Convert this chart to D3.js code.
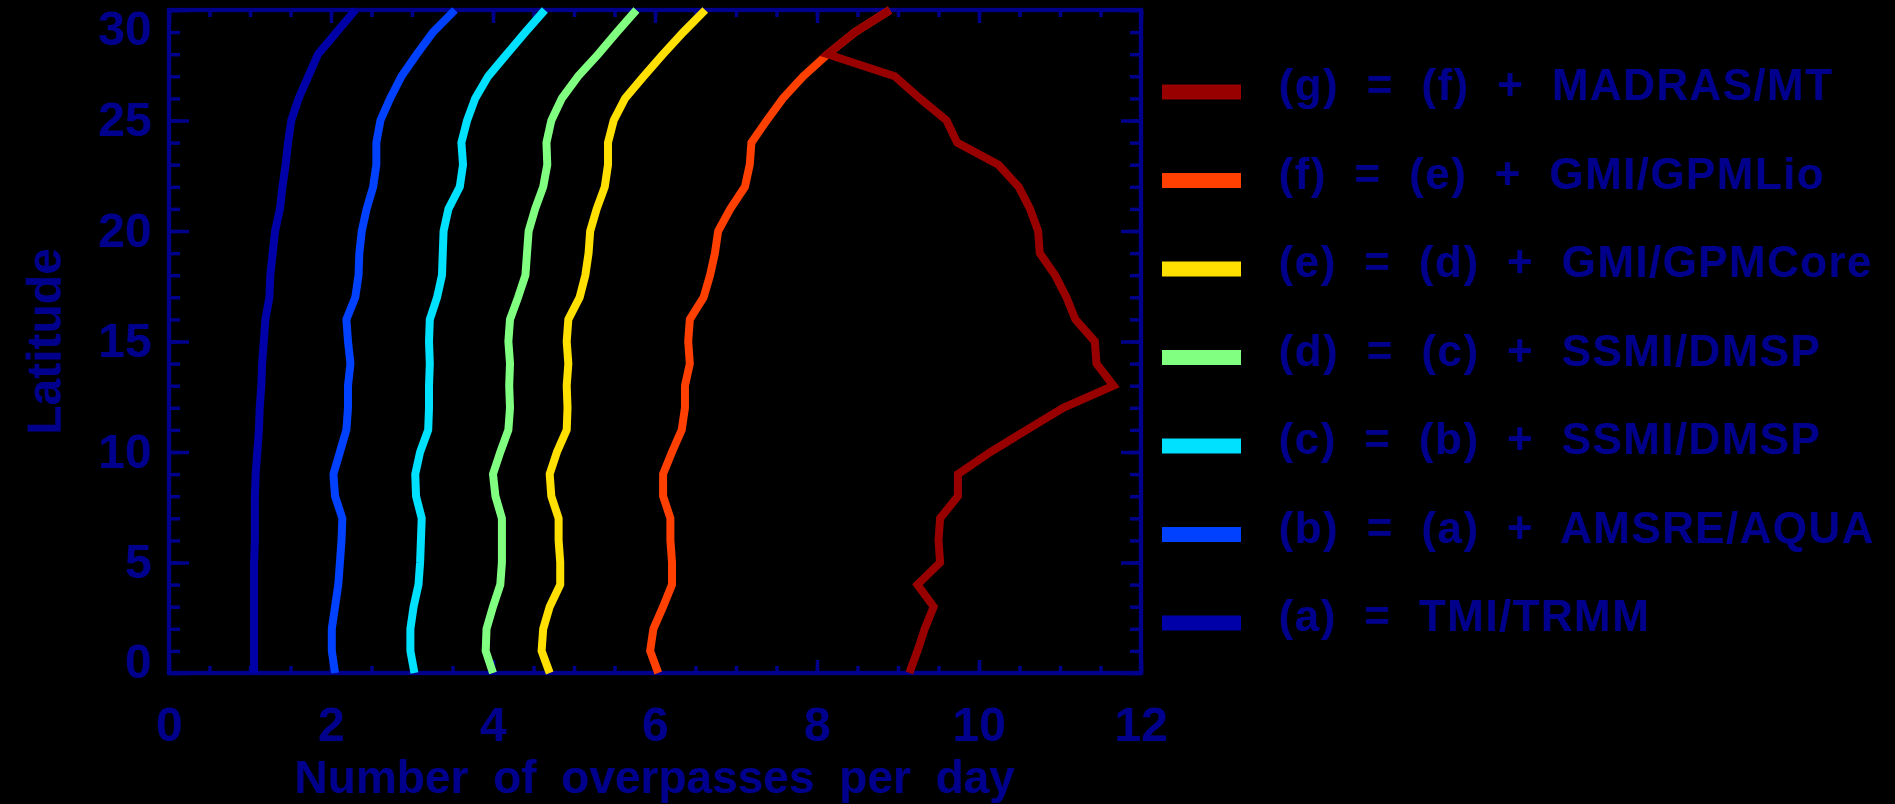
<!DOCTYPE html>
<html>
<head>
<meta charset="utf-8">
<script src="https://cdn.jsdelivr.net/npm/d3@7"></script>
<style>
  body { margin: 0; background: #000; }
  svg { display: block; }
  text { font-family: 'Liberation Sans', Arial, Helvetica, sans-serif; font-weight: bold; }
</style>
</head>
<body>
<div id="chart"></div>
<script>
// latitude of every point, 0..30 deg
const latitudes = d3.range(0, 31);

// overpasses per day, one value per latitude
const tmiTrmm   = [1.05,1.05,1.05,1.05,1.05,1.05,1.06,1.06,1.06,1.07,1.09,1.11,1.12,1.14,1.15,1.17,1.19,1.24,1.25,1.28,1.31,1.37,1.40,1.44,1.47,1.51,1.60,1.72,1.84,2.07,2.30];
const plusAmsre = [2.05,2.01,2.01,2.05,2.09,2.11,2.13,2.14,2.05,2.03,2.11,2.19,2.21,2.21,2.24,2.21,2.19,2.30,2.34,2.35,2.38,2.44,2.52,2.56,2.56,2.61,2.73,2.87,3.06,3.26,3.53];
const plusSsmi1 = [3.03,2.98,2.98,3.02,3.08,3.10,3.11,3.12,3.05,3.04,3.10,3.20,3.21,3.21,3.22,3.21,3.22,3.31,3.37,3.38,3.39,3.45,3.59,3.63,3.61,3.68,3.78,3.94,4.17,4.40,4.64];
const plusSsmi2 = [4.00,3.91,3.92,4.00,4.09,4.11,4.11,4.11,4.03,4.00,4.09,4.19,4.21,4.20,4.21,4.19,4.21,4.31,4.40,4.42,4.44,4.52,4.62,4.67,4.66,4.72,4.85,5.05,5.30,5.53,5.77];
const plusGpmCore = [4.70,4.60,4.62,4.70,4.83,4.83,4.81,4.81,4.72,4.70,4.79,4.91,4.92,4.91,4.93,4.91,4.93,5.07,5.14,5.18,5.20,5.28,5.38,5.42,5.42,5.49,5.63,5.86,6.10,6.35,6.62];
const plusGpmLio  = [6.04,5.94,5.98,6.10,6.21,6.21,6.19,6.19,6.10,6.10,6.21,6.33,6.37,6.37,6.43,6.41,6.43,6.60,6.68,6.74,6.78,6.93,7.11,7.17,7.19,7.38,7.58,7.83,8.13,8.47,8.90];
const plusMadras  = [9.14,9.24,9.33,9.44,9.24,9.52,9.50,9.52,9.74,9.74,10.14,10.59,11.04,11.66,11.45,11.43,11.19,11.08,10.94,10.75,10.73,10.63,10.49,10.24,9.73,9.60,9.27,8.96,8.13,8.47,8.90];

const seriesLabels = [
  "(a) = TMI/TRMM",
  "(b) = (a) + AMSRE/AQUA",
  "(c) = (b) + SSMI/DMSP",
  "(d) = (c) + SSMI/DMSP",
  "(e) = (d) + GMI/GPMCore",
  "(f) = (e) + GMI/GPMLio",
  "(g) = (f) + MADRAS/MT"
];
const seriesValues = [tmiTrmm, plusAmsre, plusSsmi1, plusSsmi2, plusGpmCore, plusGpmLio, plusMadras];
const seriesColors = ["#0000a8", "#0040ff", "#00e0ff", "#80ff80", "#ffe000", "#ff4000", "#980000"];

const xTicks = [0, 2, 4, 6, 8, 10, 12];
const yTicks = [0, 5, 10, 15, 20, 25, 30];

const width = 1895;
const height = 804;
const margin = { top: 10, right: 754, bottom: 131, left: 169 };
const axisColor = "#00008c";

const svg = d3.select("#chart")
  .append("svg")
  .attr("width", width)
  .attr("height", height)
  .style("background", "#000");

const x = d3.scaleLinear()
  .domain([0, 12])
  .range([margin.left, width - margin.right]);

const y = d3.scaleLinear()
  .domain([0, 30])
  .range([height - margin.bottom, margin.top]);

function styleAxis(g) {
  g.select(".domain").remove();
  g.selectAll(".tick line").attr("stroke", axisColor).attr("stroke-width", 3.5);
  g.selectAll(".tick text").attr("fill", axisColor).attr("font-size", 48);
}

const minorX = d3.range(0, 12.01, 0.5);
const minorY = d3.range(0, 31, 1);

// bottom
svg.append("g")
  .attr("transform", `translate(0,${y(0)})`)
  .call(d3.axisBottom(x).tickValues(minorX).tickSize(-7).tickFormat(""))
  .call(styleAxis);
svg.append("g")
  .attr("transform", `translate(0,${y(0)})`)
  .call(d3.axisBottom(x).tickValues(xTicks).tickSize(-13).tickPadding(34).tickFormat(d3.format("d")))
  .call(styleAxis);

// top
svg.append("g")
  .attr("transform", `translate(0,${y(30)})`)
  .call(d3.axisTop(x).tickValues(minorX).tickSize(-7).tickFormat(""))
  .call(styleAxis);
svg.append("g")
  .attr("transform", `translate(0,${y(30)})`)
  .call(d3.axisTop(x).tickValues(xTicks).tickSize(-13).tickFormat(""))
  .call(styleAxis);

// left
svg.append("g")
  .attr("transform", `translate(${x(0)},0)`)
  .call(d3.axisLeft(y).tickValues(minorY).tickSize(-11).tickFormat(""))
  .call(styleAxis);
const leftAxis = svg.append("g")
  .attr("transform", `translate(${x(0)},0)`)
  .call(d3.axisLeft(y).tickValues(yTicks).tickSize(-20).tickPadding(17).tickFormat(d3.format("d")))
  .call(styleAxis);
// end labels are pulled inside the frame, as in the original
leftAxis.selectAll(".tick text")
  .attr("transform", d => d === 30 ? "translate(0,19)" : d === 0 ? "translate(0,-11)" : null);

// right
svg.append("g")
  .attr("transform", `translate(${x(12)},0)`)
  .call(d3.axisRight(y).tickValues(minorY).tickSize(-11).tickFormat(""))
  .call(styleAxis);
svg.append("g")
  .attr("transform", `translate(${x(12)},0)`)
  .call(d3.axisRight(y).tickValues(yTicks).tickSize(-20).tickFormat(""))
  .call(styleAxis);

// frame
svg.append("rect")
  .attr("x", x(0))
  .attr("y", y(30))
  .attr("width", x(12) - x(0))
  .attr("height", y(0) - y(30))
  .attr("fill", "none")
  .attr("stroke", axisColor)
  .attr("stroke-width", 4.3);

// curves
const line = d3.line()
  .x(d => x(d[0]))
  .y(d => y(d[1]));

svg.append("g")
  .selectAll("path")
  .data(seriesValues)
  .join("path")
    .attr("d", vals => line(vals.map((v, i) => [v, latitudes[i]])))
    .attr("fill", "none")
    .attr("stroke", (d, i) => seriesColors[i])
    .attr("stroke-width", 8);

// legend, (g) on top
const legendOrder = d3.range(seriesLabels.length).reverse();
const legendY = d3.scalePoint()
  .domain(legendOrder)
  .range([92, 623]);

const legend = svg.append("g")
  .selectAll("g")
  .data(legendOrder)
  .join("g")
    .attr("transform", i => `translate(0,${legendY(i)})`);

legend.append("line")
  .attr("x1", 1162)
  .attr("x2", 1241)
  .attr("stroke", i => seriesColors[i])
  .attr("stroke-width", 15);

legend.append("text")
  .attr("x", 1279)
  .attr("y", 8)
  .attr("fill", axisColor)
  .attr("font-size", 44)
  .style("letter-spacing", "1.4px")
  .style("word-spacing", "14px")
  .text(i => seriesLabels[i]);

// axis titles
svg.append("text")
  .attr("x", (x(0) + x(12)) / 2)
  .attr("y", 793)
  .attr("text-anchor", "middle")
  .attr("fill", axisColor)
  .attr("font-size", 46)
  .style("word-spacing", "12px")
  .text("Number of overpasses per day");

svg.append("text")
  .attr("transform", `translate(61,${(y(0) + y(30)) / 2}) rotate(-90)`)
  .attr("text-anchor", "middle")
  .attr("fill", axisColor)
  .attr("font-size", 48)
  .text("Latitude");
</script>
</body>
</html>
